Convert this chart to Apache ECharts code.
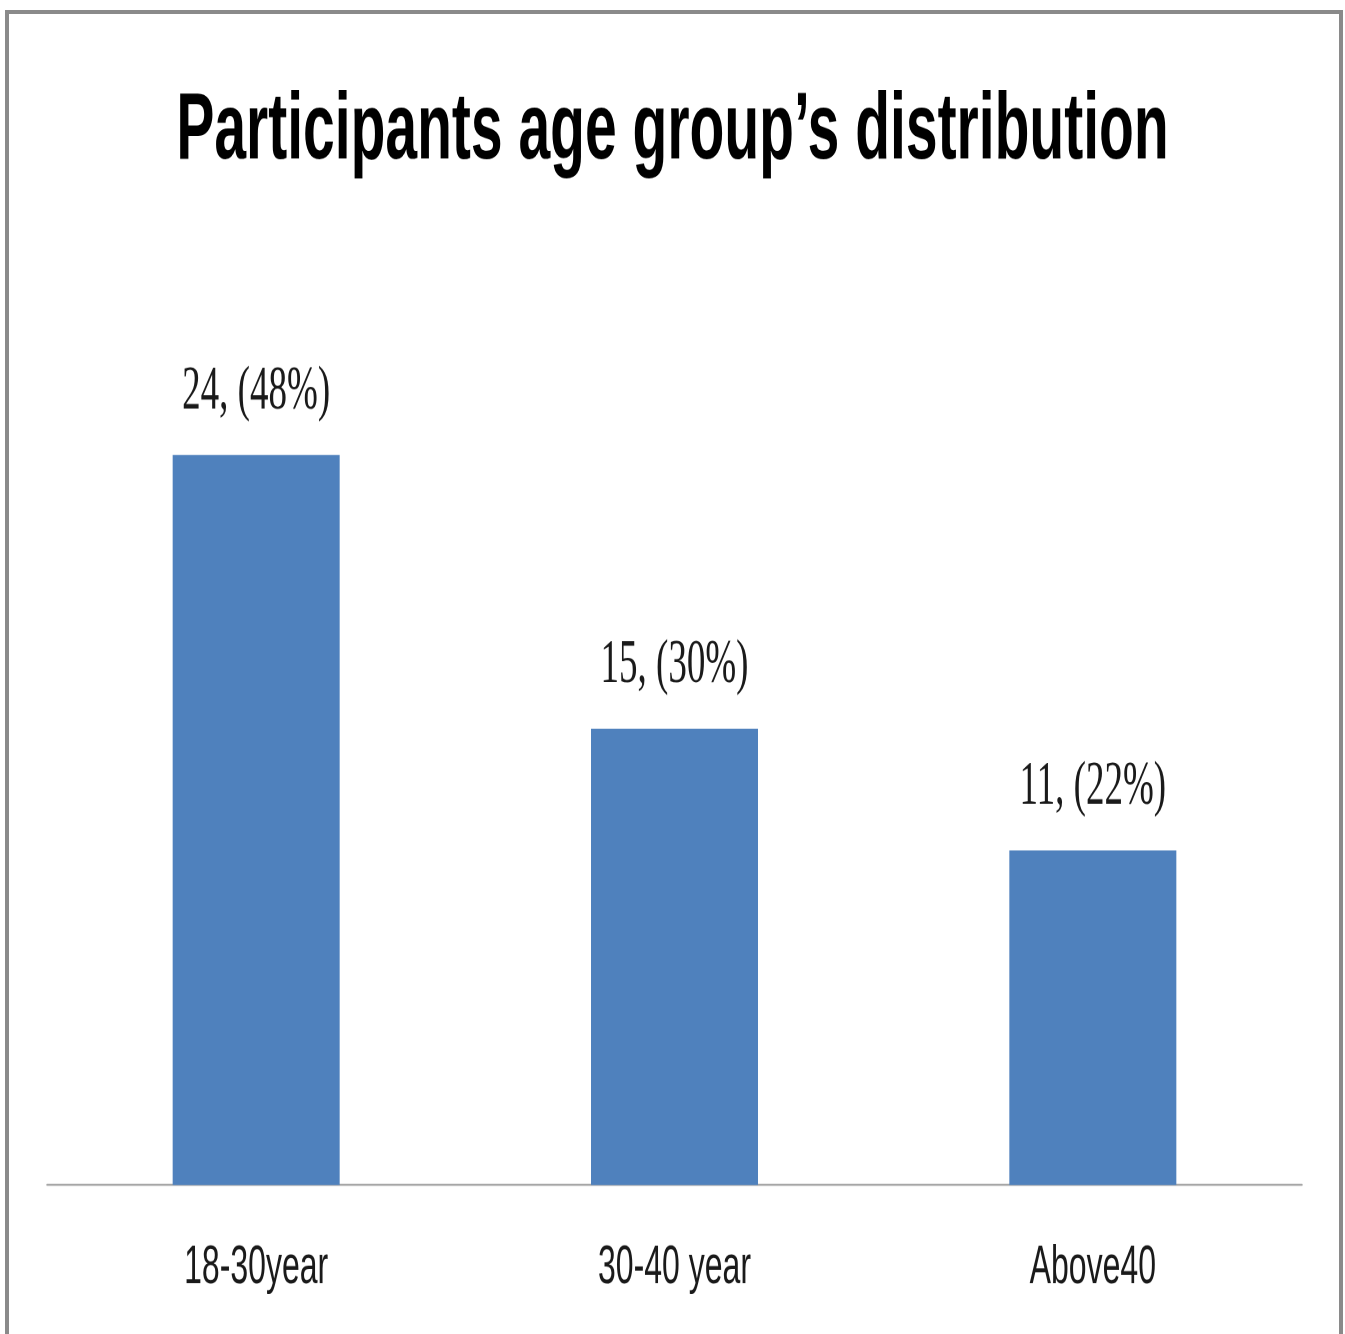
<!DOCTYPE html>
<html>
<head>
<meta charset="utf-8">
<title>Participants age group’s distribution</title>
<script src="https://cdn.jsdelivr.net/npm/echarts@6/dist/echarts.min.js"></script>
<style>
  html, body { margin: 0; padding: 0; background: #fff; }
  #wrap { position: relative; width: 1345px; height: 1334px; overflow: hidden; background: #fff; }
  /* the chart is laid out at 800px tall and stretched vertically, giving the tall, narrow lettering */
  #chart { position: absolute; left: 0; top: 0; width: 1345px; height: 800px; transform: scaleY(1.6675); transform-origin: 0 0; }
  #frame { position: absolute; left: 5px; top: 10px; width: 1338px; height: 1340px; border: 4px solid #8a8a8a; border-bottom: none; box-sizing: border-box; pointer-events: none; }
</style>
</head>
<body>
<div id="wrap">
  <div id="chart"></div>
  <div id="frame"></div>
</div>
<script>
// Age groups and participant counts
const categories = ['18-30year', '30-40 year', 'Above40'];
const counts = [24, 15, 11];
const percents = [48, 30, 22];

const chart = echarts.init(document.getElementById('chart'), null, { renderer: 'canvas', devicePixelRatio: 2 });

chart.setOption({
  backgroundColor: '#ffffff',
  animation: false,
  title: {
    text: 'Participants age group’s distribution',
    left: 'center',
    top: 46,
    textStyle: {
      fontFamily: 'Liberation Sans, Arial, sans-serif',
      fontWeight: 'bold',
      fontSize: 57,
      color: '#000000'
    }
  },
  grid: { left: 47, right: 43, top: 163.4, bottom: 89.4, containLabel: false },
  xAxis: {
    type: 'category',
    data: categories,
    axisLine: { show: true, lineStyle: { color: '#a6a6a6', width: 1.3 } },
    axisTick: { show: false },
    axisLabel: {
      margin: 34,
      fontFamily: 'Liberation Sans, Arial, sans-serif',
      fontSize: 32,
      color: '#1a1a1a'
    },
    splitLine: { show: false }
  },
  yAxis: {
    type: 'value',
    min: 0,
    max: 30,
    show: false,
    splitLine: { show: false }
  },
  series: [{
    type: 'bar',
    data: counts,
    barWidth: 167,
    itemStyle: { color: '#4F81BD' },
    label: {
      show: true,
      position: 'top',
      distance: 19,
      formatter: p => p.value + ', (' + percents[p.dataIndex] + '%)',
      fontFamily: 'Liberation Serif, Times New Roman, serif',
      fontSize: 37,
      color: '#1a1a1a'
    }
  }]
});
</script>
</body>
</html>
